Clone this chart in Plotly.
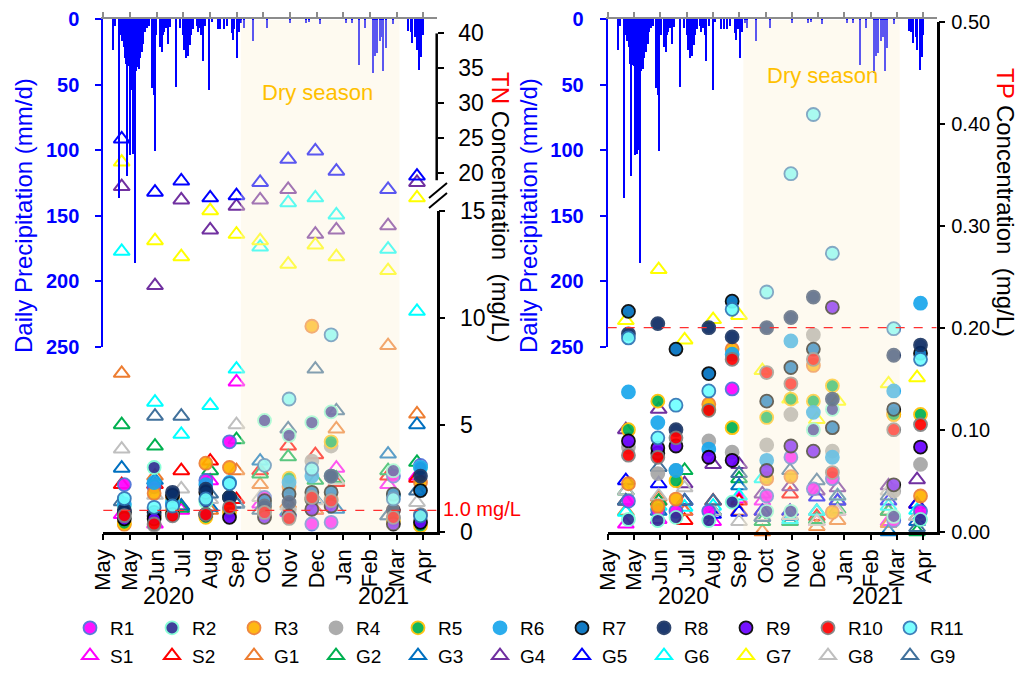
import plotly.graph_objects as go

FONT = "Liberation Sans, Arial, sans-serif"
W, H = 1023, 673
ML, MR = 60, 23
PW = W - ML - MR


def px_x(p):
    return (p - ML) / PW


def px_y(p):
    return 1 - p / H


# ---------------- data ----------------
month_labels = ["May", "May", "Jun", "Jul", "Aug", "Sep", "Oct", "Nov", "Dec", "Jan", "Feb", "Mar", "Apr"]
DAYS_PER_TICK = 30.44
tick_days = [i * DAYS_PER_TICK for i in range(13)]
x_range = [0, 12.5 * DAYS_PER_TICK]
year_labels = ["2020", "2021"]

dry_start, dry_end = 157, 338          # dry season (days from axis start)
r_days = [24, 58, 79, 117, 144, 184, 212, 238, 260, 331, 362]   # river sampling days
g_days = [21, 59, 89, 122, 152, 179, 211, 242, 266, 325, 358]   # spring / groundwater sampling days

# daily precipitation (mm/d), day index from axis start
precip_day = [12, 14, 18, 20, 22, 24, 25, 26, 27, 28, 29, 30, 31, 32, 33, 34, 35, 36, 37, 38, 39, 40, 41, 42,
              43, 44, 46, 48, 50, 52, 56, 58, 59, 61, 65, 67, 68, 70, 72, 74, 76, 83, 88, 91, 93, 95, 97,
              99, 101, 103, 107, 108, 110, 112, 114, 117, 121, 124, 131, 134, 138, 141, 147, 148, 150, 153,
              155, 158, 161, 171, 187, 213, 232, 235, 248, 277, 284, 292, 299, 308, 310, 313, 316, 318, 320,
              323, 331, 348, 351, 353, 356, 358, 361, 363, 365]
precip_mm = [24, 5, 137, 12, 17, 21, 30, 34, 120, 33, 35, 36, 104, 54, 50, 103, 56, 100, 186, 40, 37, 36, 38, 30,
             22, 25, 19, 10, 7, 5, 53, 58, 101, 12, 21, 25, 12, 10, 7, 19, 6, 52, 7, 12, 24, 30, 28,
             20, 12, 8, 5, 10, 7, 12, 32, 5, 54, 2, 8, 8, 8, 5, 11, 16, 8, 30,
             10, 3, 7, 17, 7, 3, 3, 2, 4, 3, 3, 35, 7, 41, 28, 26, 17, 14, 40,
             22, 4, 9, 10, 18, 14, 24, 39, 29, 12]

# TN concentration (mg/L)
TN_R1 = [2.2, 2.1, 1.3, 2.4, 4.2, 1.6, 0.7, 0.36, 0.44, 2.6, 3.1]
TN_R2 = [1.2, 3.0, 1.5, 1.4, 1.6, 5.2, 4.5, 5.1, 5.6, 2.85, 3.0]
TN_R3 = [0.35, 1.8, 1.6, 3.2, 3.0, 1.0, 2.1, 9.6, 1.5, 1.0, 2.3]
TN_R4 = [0.9, 0.3, 0.8, 0.8, 1.0, 0.9, 0.95, 3.3, 4.0, 0.6, 0.5]
TN_R5 = [0.4, 0.7, 1.0, 0.67, 0.9, 1.2, 2.5, 1.5, 4.2, 0.5, 0.28]
TN_R6 = [1.3, 2.3, 1.35, 2.2, 2.3, 1.3, 2.3, 2.6, 2.6, 1.7, 3.0]
TN_R7 = [0.9, 0.9, 1.7, 1.84, 1.6, 1.45, 1.76, 1.84, 1.84, 1.76, 1.92]
TN_R8 = [1.0, 0.75, 1.84, 1.99, 1.6, 1.2, 1.37, 1.5, 2.6, 1.0, 2.6]
TN_R9 = [0.6, 0.6, 0.8, 0.8, 0.67, 0.67, 0.74, 1.05, 1.2, 0.36, 0.44]
TN_R10 = [0.75, 0.36, 0.74, 0.8, 1.14, 0.9, 0.62, 1.6, 1.45, 0.67, 0.8]
TN_R11 = [1.55, 1.14, 1.2, 1.53, 2.25, 3.1, 6.2, 2.93, 9.2, 1.53, 0.74]
TN_S1 = [0.8, 0.36, 1.0, 2.38, 7.0, 1.3, 0.9, 1.0, 2.97, 2.2, 2.6]
TN_S2 = [2.2, 2.2, 2.85, 3.3, 1.5, 2.85, 4.0, 3.6, 2.3, 2.6, 2.5]
TN_G1 = [7.4, 2.6, 1.2, 1.0, 2.85, 2.2, 1.3, 1.0, 4.8, 8.7, 5.5]
TN_G2 = [5.0, 4.0, 1.1, 2.85, 4.3, 2.7, 3.5, 2.4, 2.5, 2.85, 3.24]
TN_G3 = [2.97, 2.4, 1.2, 1.14, 1.3, 3.3, 0.95, 1.5, 1.05, 3.63, 5.0]
TN_G4 = [18.1, 11.5, 16.2, 14.1, 15.3, 16.2, 17.7, 13.9, 14.1, 14.3, 18.7]
TN_G5 = [24.9, 17.3, 18.9, 16.5, 16.8, 18.7, 22.0, 23.2, 20.3, 17.7, 19.6]
TN_G6 = [13.1, 6.05, 4.55, 5.9, 7.6, 13.3, 15.8, 16.5, 14.8, 13.2, 10.3]
TN_G7 = [21.6, 13.6, 12.85, 15.0, 13.9, 13.6, 12.5, 13.4, 12.85, 12.2, 16.5]
TN_G8 = [3.86, 1.7, 2.0, 1.5, 5.0, 1.6, 1.2, 1.45, 2.4, 0.74, 1.37]
TN_G9 = [1.4, 5.4, 5.4, 1.76, 1.3, 1.0, 4.8, 7.6, 5.65, 0.74, 1.9]

# TP concentration (mg/L)
TP_R1 = [0.03, 0.02, 0.02, 0.02, 0.14, 0.035, 0.073, 0.042, 0.052, 0.011, 0.02]
TP_R2 = [0.012, 0.011, 0.014, 0.011, 0.029, 0.02, 0.02, 0.10, 0.12, 0.015, 0.012]
TP_R3 = [0.047, 0.025, 0.032, 0.125, 0.179, 0.052, 0.054, 0.163, 0.019, 0.115, 0.035]
TP_R4 = [0.083, 0.057, 0.06, 0.089, 0.078, 0.085, 0.115, 0.193, 0.079, 0.04, 0.066]
TP_R5 = [0.10, 0.128, 0.05, 0.12, 0.102, 0.112, 0.13, 0.128, 0.143, 0.115, 0.115]
TP_R6 = [0.137, 0.107, 0.06, 0.081, 0.174, 0.07, 0.187, 0.117, 0.073, 0.138, 0.224]
TP_R7 = [0.216, 0.077, 0.179, 0.155, 0.226, 0.128, 0.161, 0.179, 0.102, 0.12, 0.175]
TP_R8 = [0.194, 0.204, 0.10, 0.20, 0.191, 0.20, 0.21, 0.23, 0.13, 0.173, 0.183]
TP_R9 = [0.089, 0.082, 0.084, 0.073, 0.07, 0.06, 0.084, 0.079, 0.22, 0.046, 0.083]
TP_R10 = [0.075, 0.073, 0.092, 0.119, 0.169, 0.156, 0.145, 0.169, 0.058, 0.10, 0.105]
TP_R11 = [0.19, 0.092, 0.124, 0.138, 0.218, 0.235, 0.351, 0.409, 0.273, 0.199, 0.169]
TP_S1 = [0.0075, 0.012, 0.02, 0.01, 0.032, 0.03, 0.01, 0.01, 0.02, 0.01, 0.01]
TP_S2 = [0.03, 0.03, 0.011, 0.03, 0.03, 0.02, 0.037, 0.015, 0.03, 0.02, 0.027]
TP_G1 = [0.02, 0.034, 0.02, 0.02, 0.02, 0.0, 0.02, 0.005, 0.011, 0.008, 0.015]
TP_G2 = [0.04, 0.03, 0.06, 0.02, 0.052, 0.01, 0.01, 0.012, 0.022, 0.02, 0.0]
TP_G3 = [0.03, 0.02, 0.03, 0.02, 0.045, 0.014, 0.015, 0.02, 0.03, 0.0, 0.01]
TP_G4 = [0.10, 0.12, 0.047, 0.066, 0.066, 0.037, 0.044, 0.04, 0.043, 0.045, 0.051]
TP_G5 = [0.05, 0.047, 0.03, 0.017, 0.019, 0.02, 0.02, 0.034, 0.03, 0.03, 0.027]
TP_G6 = [0.019, 0.025, 0.024, 0.025, 0.035, 0.052, 0.012, 0.02, 0.035, 0.025, 0.021]
TP_G7 = [0.207, 0.257, 0.188, 0.208, 0.212, 0.158, 0.13, 0.11, 0.128, 0.145, 0.151]
TP_G8 = [0.04, 0.035, 0.043, 0.02, 0.01, 0.015, 0.016, 0.01, 0.02, 0.04, 0.015]
TP_G9 = [0.03, 0.063, 0.03, 0.03, 0.057, 0.014, 0.06, 0.05, 0.035, 0.035, 0.004]

TN_LIMIT = 1.0
TP_LIMIT = 0.2

river_names = ["R1", "R2", "R3", "R4", "R5", "R6", "R7", "R8", "R9", "R10", "R11"]
other_names = ["S1", "S2", "G1", "G2", "G3", "G4", "G5", "G6", "G7", "G8", "G9"]

TN = {"R1": TN_R1, "R2": TN_R2, "R3": TN_R3, "R4": TN_R4, "R5": TN_R5, "R6": TN_R6, "R7": TN_R7,
      "R8": TN_R8, "R9": TN_R9, "R10": TN_R10, "R11": TN_R11, "S1": TN_S1, "S2": TN_S2, "G1": TN_G1,
      "G2": TN_G2, "G3": TN_G3, "G4": TN_G4, "G5": TN_G5, "G6": TN_G6, "G7": TN_G7, "G8": TN_G8, "G9": TN_G9}
TP = {"R1": TP_R1, "R2": TP_R2, "R3": TP_R3, "R4": TP_R4, "R5": TP_R5, "R6": TP_R6, "R7": TP_R7,
      "R8": TP_R8, "R9": TP_R9, "R10": TP_R10, "R11": TP_R11, "S1": TP_S1, "S2": TP_S2, "G1": TP_G1,
      "G2": TP_G2, "G3": TP_G3, "G4": TP_G4, "G5": TP_G5, "G6": TP_G6, "G7": TP_G7, "G8": TP_G8, "G9": TP_G9}

# ---------------- styles ----------------
R_FILL = {"R1": "#FF00FF", "R2": "#2E3192", "R3": "#FFB300", "R4": "#A6A6A6", "R5": "#00B050",
          "R6": "#1AA7EC", "R7": "#0070C0", "R8": "#0B2A63", "R9": "#6A00FF", "R10": "#FF0000",
          "R11": "#70FFFF"}
R_EDGE = {"R1": "#4A6FD8", "R2": "#7FFFD4", "R3": "#ED7D31", "R4": "#A6A6A6", "R5": "#FFC000",
          "R6": "#1AA7EC", "R7": "#000000", "R8": "#1F3864", "R9": "#000000", "R10": "#7F7F7F",
          "R11": "#2E75B6"}
T_COL = {"S1": "#FF00FF", "S2": "#FF0000", "G1": "#ED7D31", "G2": "#00B050", "G3": "#0070C0",
         "G4": "#7030A0", "G5": "#0000FF", "G6": "#00FFFF", "G7": "#FFFF00", "G8": "#BFBFBF",
         "G9": "#41719C"}

fig = go.Figure()

# precipitation bars on both panels
for xa, ya in (("x2", "y"), ("x4", "y4")):
    fig.add_trace(go.Bar(x=precip_day, y=precip_mm, xaxis=xa, yaxis=ya, width=1.2,
                         marker=dict(color="#0000FF", line=dict(width=0)), showlegend=False,
                         hoverinfo="skip"))


def marker_for(name):
    if name in R_FILL:
        return dict(symbol="circle", size=13, color=R_FILL[name], opacity=0.92,
                    line=dict(color=R_EDGE[name], width=1.8))
    return dict(symbol="triangle-up-open", size=14, color=T_COL[name], line=dict(width=2))


rank = {n: i for i, n in enumerate(river_names + other_names)}

# triangles first, circles drawn on top
for name in other_names + river_names:
    days = r_days if name in R_FILL else g_days
    tn = TN[name]
    lo = [(d, v) for d, v in zip(days, tn) if v <= 15]
    hi = [(d, v) for d, v in zip(days, tn) if v > 15]
    mk = marker_for(name)
    if lo:
        fig.add_trace(go.Scatter(x=[a for a, _ in lo], y=[b for _, b in lo], mode="markers",
                                 xaxis="x", yaxis="y2", marker=mk, showlegend=False,
                                 cliponaxis=False, name=name))
    if hi:
        fig.add_trace(go.Scatter(x=[a for a, _ in hi], y=[b for _, b in hi], mode="markers",
                                 xaxis="x", yaxis="y3", marker=mk, showlegend=False,
                                 cliponaxis=False, name=name))
    fig.add_trace(go.Scatter(x=days, y=TP[name], mode="markers", xaxis="x3", yaxis="y5",
                             marker=mk, showlegend=True, legendrank=rank[name] + 1,
                             cliponaxis=False, name=name))

# ---------------- axes ----------------
XL = [px_x(103.3), px_x(436.7)]
XR = [px_x(607.7), px_x(936.5)]
Y_PRE = [px_y(346.5), px_y(19)]

bottom_x = dict(range=x_range, tickvals=tick_days, ticktext=month_labels, tickangle=-90,
                ticks="outside", ticklen=6, tickwidth=2, tickcolor="black", showline=True,
                linewidth=2.5, linecolor="black", showgrid=False, zeroline=False,
                tickfont=dict(size=22, color="black"))
top_x = dict(range=x_range, tickvals=tick_days, showticklabels=False, side="top", ticks="outside",
             ticklen=5, tickwidth=1.5, tickcolor="#8C8C8C", showline=True, linewidth=1.5,
             linecolor="#8C8C8C", showgrid=False, zeroline=False)
pre_y = dict(domain=Y_PRE, range=[250, 0], side="left", tickvals=[0, 50, 100, 150, 200, 250],
             ticks="outside", ticklen=6, tickwidth=2, tickcolor="#0000FF", showline=True,
             linewidth=2, linecolor="#0000FF", showgrid=False, zeroline=False,
             tickfont=dict(size=20, color="#0000FF", weight="bold"),
             ticklabelstandoff=12)

fig.update_layout(
    template="none",
    width=W, height=H, margin=dict(l=ML, r=MR, t=0, b=0, autoexpand=False),
    paper_bgcolor="white", plot_bgcolor="rgba(0,0,0,0)",
    font=dict(family=FONT, size=20, color="black"),
    barmode="overlay", bargap=0,
    xaxis=dict(domain=XL, anchor="y2", **bottom_x),
    xaxis2=dict(domain=XL, anchor="y", **top_x),
    yaxis=dict(anchor="x2", **pre_y),
    yaxis2=dict(domain=[px_y(531.7), px_y(210.7)], range=[0, 15], anchor="x", side="right",
                tickvals=[0, 5, 10, 15], ticks="outside", ticklen=6, tickwidth=2, tickcolor="black",
                showline=True, linewidth=2.5, linecolor="black", showgrid=False, zeroline=False,
                tickfont=dict(size=23), ticklabelstandoff=10),
    yaxis3=dict(domain=[px_y(208.3), px_y(33.3)], range=[15, 40], anchor="x", side="right",
                tickvals=[20, 25, 30, 35, 40], ticks="outside", ticklen=6, tickwidth=2,
                tickcolor="black", showline=False, showgrid=False, zeroline=False,
                tickfont=dict(size=23), ticklabelstandoff=10),
    xaxis3=dict(domain=XR, anchor="y5", **bottom_x),
    xaxis4=dict(domain=XR, anchor="y4", **top_x),
    yaxis4=dict(anchor="x4", **pre_y),
    yaxis5=dict(domain=[px_y(531.7), px_y(21.7)], range=[0, 0.5], anchor="x3", side="right",
                tickvals=[0, 0.1, 0.2, 0.3, 0.4, 0.5], tickformat=".2f", ticks="outside", ticklen=6,
                tickwidth=2, tickcolor="black", showline=True, linewidth=2.5, linecolor="black",
                showgrid=False, zeroline=False, tickfont=dict(size=20), ticklabelstandoff=2),
    legend=dict(orientation="h", x=px_x(70), xanchor="left", y=px_y(675), yanchor="bottom",
                font=dict(size=19), entrywidth=37, entrywidthmode="pixels", itemwidth=30,
                tracegroupgap=0, bgcolor="rgba(0,0,0,0)", borderwidth=0, traceorder="normal"),
)

shapes = []
# dry season overlays
for xr in ("x", "x3"):
    shapes.append(dict(type="rect", xref=xr, yref="paper", x0=dry_start, x1=dry_end,
                       y0=px_y(530.5), y1=px_y(20), fillcolor="rgb(252,240,213)", opacity=0.36,
                       line=dict(width=0), layer="above"))
# limit lines
shapes.append(dict(type="line", xref="x domain", yref="y2", x0=0, x1=1, y0=TN_LIMIT, y1=TN_LIMIT,
                   line=dict(color="#FF3030", width=1.2, dash="dash")))
shapes.append(dict(type="line", xref="x3 domain", yref="y5", x0=0, x1=1, y0=TP_LIMIT, y1=TP_LIMIT,
                   line=dict(color="#FF3030", width=1.2, dash="dash")))
# upper part of the broken TN axis
shapes.append(dict(type="line", xref="x domain", yref="y3", x0=1, x1=1, y0=19, y1=40,
                   line=dict(color="black", width=2.5)))
# break marks
for yb in (198, 208):
    shapes.append(dict(type="line", xref="paper", yref="paper", x0=px_x(429), x1=px_x(447),
                       y0=px_y(yb), y1=px_y(yb - 15), line=dict(color="black", width=2)))
fig.update_layout(shapes=shapes)


def note(text, xc, yc, size, color, angle=0, xanchor="center"):
    return dict(text=text, x=px_x(xc), y=px_y(yc), xref="paper", yref="paper", showarrow=False,
                xanchor=xanchor, yanchor="middle", textangle=angle,
                font=dict(size=size, color=color))


ann = [
    note("Dry season", 317, 93, 22, "#FFC000"),
    note("Dry season", 822, 75, 22, "#FFC000"),
    note("Daily Precipitation (mm/d)", 24, 216, 24, "#0000FF", -90),
    note("Daily Precipitation (mm/d)", 529, 216, 24, "#0000FF", -90),
    note("<span style='color:#FF0000'>TN</span> Concentration\u00a0\u00a0(mg/L)", 501, 207, 24, "black", 90),
    note("<span style='color:#FF0000'>TP</span> Concentration\u00a0\u00a0(mg/L)", 1006, 202, 24, "black", 90),
    note("1.0 mg/L", 441, 509, 20, "#FF0000", xanchor="left"),
]
for (xc, txt) in ((168, year_labels[0]), (383, year_labels[1]), (683, year_labels[0]), (877, year_labels[1])):
    ann.append(note(txt, xc, 596, 23, "black"))
fig.update_layout(annotations=ann)

fig.write_html("out.html", config={"displayModeBar": False},
               post_script="document.body.style.margin='0px';")
